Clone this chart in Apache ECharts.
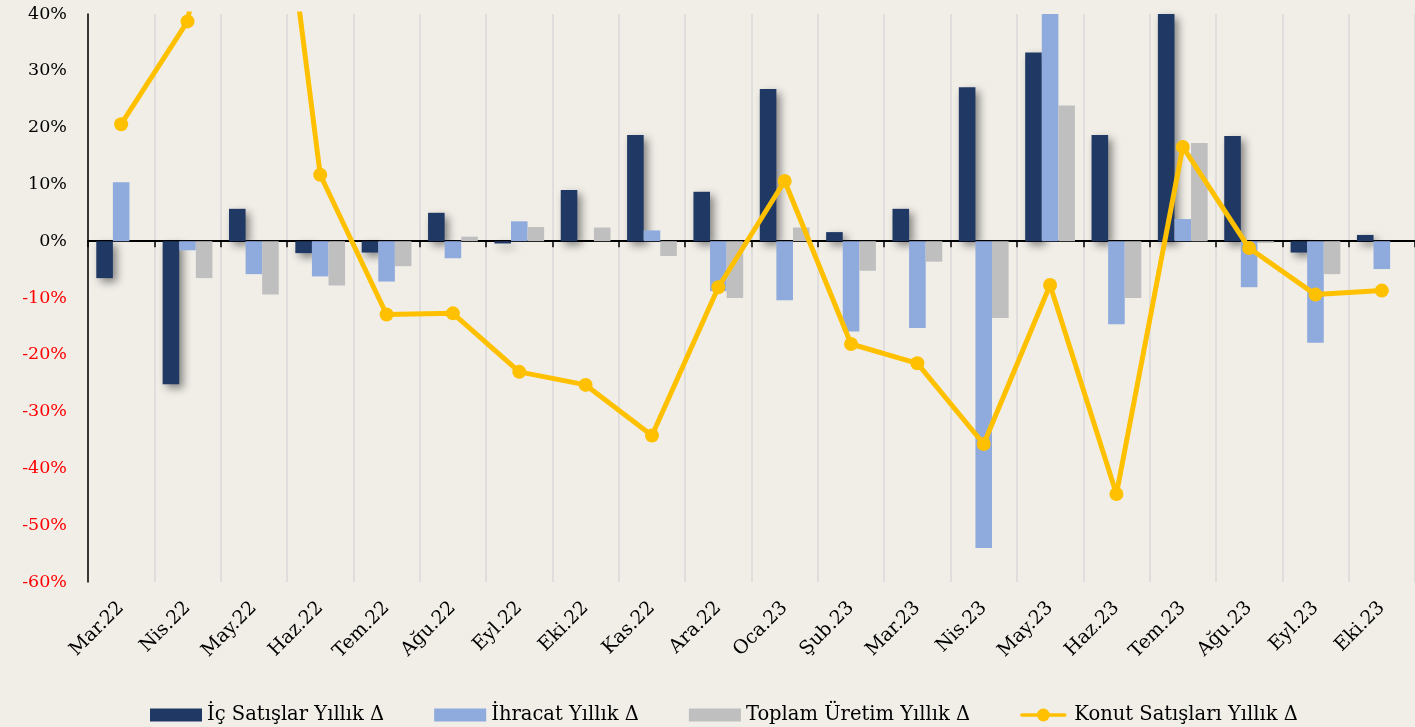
<!DOCTYPE html>
<html>
<head>
<meta charset="utf-8">
<script src="https://cdn.jsdelivr.net/npm/echarts@6/dist/echarts.min.js"></script>
<style>
html,body{margin:0;padding:0;background:#f1eee8;}
#c{width:1415px;height:727px;}
</style>
</head>
<body>
<div id="c"></div>
<script>
const categories = ["Mar.22","Nis.22","May.22","Haz.22","Tem.22","Ağu.22","Eyl.22","Eki.22","Kas.22","Ara.22","Oca.23","Şub.23","Mar.23","Nis.23","May.23","Haz.23","Tem.23","Ağu.23","Eyl.23","Eki.23"];
const icSatislar = [-6.5,-25.2,5.7,-2.1,-2.0,5.0,-0.4,9.0,18.7,8.7,26.8,1.6,5.7,27.1,33.2,18.7,45,18.5,-2.0,1.1];
const ihracat = [10.4,-1.6,-5.8,-6.2,-7.1,-3.0,3.5,0,1.9,-8.8,-10.4,-15.9,-15.3,-54.0,48,-14.6,3.9,-8.1,-17.9,-4.9];
const toplamUretim = [0,-6.5,-9.4,-7.8,-4.4,0.8,2.5,2.4,-2.6,-10.0,2.4,-5.2,-3.6,-13.5,23.9,-10.0,17.3,-0.3,-5.8,0];
const konutSatislari = [20.6,38.7,104,11.7,-12.9,-12.7,-23.0,-25.3,-34.2,-8.1,10.6,-18.1,-21.5,-35.7,-7.7,-44.5,16.6,-1.2,-9.4,-8.7];
const yTicks = {min:-60, max:40, interval:10};

const FONT = 'DejaVu Serif';
const lineIcon = 'path://M3,5 L49,5 A2,2 0 0 1 49,9 L3,9 A2,2 0 0 1 3,5 Z M26,0 A7,7 0 1 1 25.99,0 Z';
const chart = echarts.init(document.getElementById('c'));
chart.setOption({
  backgroundColor:'#f1eee8',
  animation:false,
  textStyle:{fontFamily:FONT},
  grid:{left:88,right:0,top:14,bottom:145,containLabel:false},
  legend:{
    left:145, top:700,
    itemWidth:52, itemHeight:13, itemGap:50,
    textStyle:{fontFamily:FONT,fontSize:19.5,color:'#000'},
    data:[
      {name:'İç Satışlar Yıllık Δ',icon:'rect'},
      {name:'İhracat Yıllık Δ',icon:'rect'},
      {name:'Toplam Üretim Yıllık Δ',icon:'rect'},
      {name:'Konut Satışları Yıllık Δ',icon:lineIcon,itemStyle:{color:'#ffc000'}}
    ]
  },
  xAxis:[
    {
      type:'category', data:categories, position:'bottom',
      axisLine:{show:false,onZero:false},
      axisTick:{show:false},
      splitLine:{show:true,lineStyle:{color:'#d9d9d9',width:1.5}},
      axisLabel:{rotate:45,margin:23,fontFamily:FONT,fontSize:19,color:'#000',interval:0}
    },
    {
      type:'category', data:categories, position:'bottom',
      axisLine:{show:true,onZero:true,lineStyle:{color:'#000',width:2}},
      axisTick:{show:true,length:6,lineStyle:{color:'#000',width:1.5}},
      axisLabel:{show:false},
      splitLine:{show:false}
    }
  ],
  yAxis:{
    type:'value', min:yTicks.min, max:yTicks.max, interval:yTicks.interval,
    axisLine:{show:true,lineStyle:{color:'#000',width:1.5}},
    axisTick:{show:false},
    splitLine:{show:false},
    axisLabel:{
      margin:21, fontFamily:FONT, fontSize:17.5,
      formatter:'{value}%',
      color:function(v){ return Number(v) < 0 ? '#ff0000' : '#000'; }
    }
  },
  series:[
    {
      name:'İç Satışlar Yıllık Δ', type:'bar', data:icSatislar, xAxisIndex:0,
      barGap:'0%', barCategoryGap:'25%', clip:true,
      itemStyle:{color:'#203864',shadowColor:'rgba(0,0,0,0.45)',shadowBlur:8,shadowOffsetX:4,shadowOffsetY:4}
    },
    {
      name:'İhracat Yıllık Δ', type:'bar', data:ihracat, xAxisIndex:0,
      barGap:'0%', barCategoryGap:'25%', clip:true,
      itemStyle:{color:'#8faadc'}
    },
    {
      name:'Toplam Üretim Yıllık Δ', type:'bar', data:toplamUretim, xAxisIndex:0,
      barGap:'0%', barCategoryGap:'25%', clip:true,
      itemStyle:{color:'#bfbfbf'}
    },
    {
      name:'Konut Satışları Yıllık Δ', type:'line', data:konutSatislari, xAxisIndex:0,
      clip:true, symbol:'circle', symbolSize:14, z:10,
      lineStyle:{color:'#ffc000',width:5},
      itemStyle:{color:'#ffc000'}
    }
  ]
});
</script>
</body>
</html>
